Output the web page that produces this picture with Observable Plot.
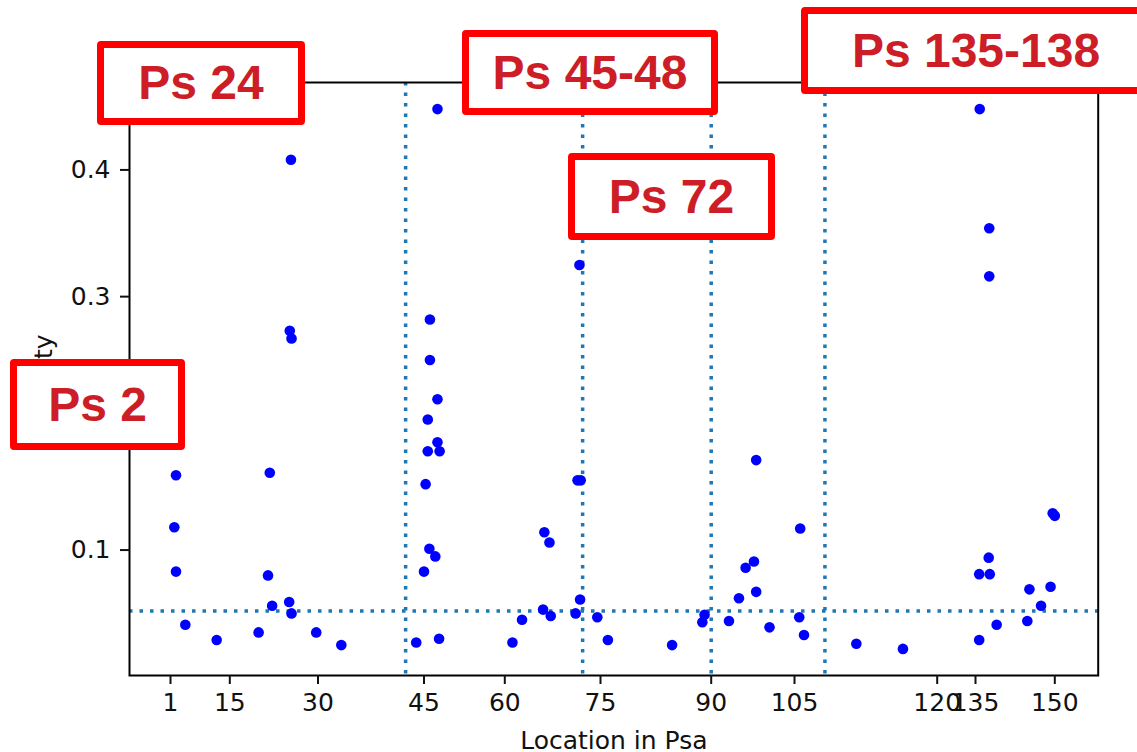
<!DOCTYPE html>
<html>
<head>
<meta charset="utf-8">
<script src="https://cdn.jsdelivr.net/npm/d3@7"></script>
<script src="https://cdn.jsdelivr.net/npm/@observablehq/plot@0.6"></script>
<style>
html, body { margin: 0; padding: 0; background: #fff; }
#wrap { position: relative; width: 1137px; height: 752px; overflow: hidden; background: #fff; }
#wrap svg { position: absolute; left: 0; top: 0; }
.tag {
  position: absolute; box-sizing: border-box;
  border: 7px solid #ff0000; border-radius: 4px; background: #fff;
  color: #cd1e27; font-family: "Liberation Sans", Arial, sans-serif;
  font-weight: bold; font-size: 48px; line-height: 1;
  display: flex; align-items: center; justify-content: center; white-space: nowrap;
}
</style>
</head>
<body>
<div id="wrap"></div>
<script>
// ---- data ----
const xLoc = [
  1.9, 2.3, 2.3, 4.5, 11.9, 19.9, 21.5, 21.8, 22.2, 25.1, 25.2, 25.4, 25.5, 25.5, 29.7, 33.3,
  43.9, 45.0, 45.3, 45.7, 45.7, 46.0, 46.1, 46.1, 47.1, 47.5, 47.5, 47.5, 47.8, 47.9,
  61.2, 62.7, 66.0, 66.2, 67.0, 67.2, 71.1, 71.4, 71.7, 71.8, 71.9, 74.5, 76.0,
  84.7, 88.8, 89.1, 93.2, 95.0, 96.2, 97.7, 98.1, 98.1, 100.5,
  105.5, 105.6, 106.0, 111.5, 116.4,
  135.7, 135.7, 135.8, 137.5, 137.6, 137.6, 137.7, 139.0, 144.8, 145.2, 147.4, 149.2, 149.6, 150.0
];
const yVal = [
  0.118, 0.159, 0.083, 0.041, 0.029, 0.035, 0.080, 0.161, 0.056, 0.059, 0.273, 0.408, 0.050, 0.267, 0.035, 0.025,
  0.027, 0.083, 0.152, 0.178, 0.203, 0.101, 0.282, 0.250, 0.095, 0.219, 0.185, 0.448, 0.030, 0.178,
  0.027, 0.045, 0.053, 0.114, 0.106, 0.048, 0.050, 0.155, 0.325, 0.061, 0.155, 0.047, 0.029,
  0.025, 0.043, 0.049, 0.044, 0.062, 0.086, 0.091, 0.067, 0.171, 0.039,
  0.047, 0.117, 0.033, 0.026, 0.022,
  0.081, 0.029, 0.448, 0.094, 0.354, 0.316, 0.081, 0.041, 0.044, 0.069, 0.056, 0.071, 0.129, 0.127
];
const vLines = [42.4, 72.2, 90, 108.2];
const hLines = [0.052];
const xTicks = [1, 15, 30, 45, 60, 75, 90, 105, 120, 135, 150];
const yTicks = [0.1, 0.2, 0.3, 0.4];
const xLabel = ["Location in Psa"];
const yLabel = ["Diversity"];
const tagTexts = ["Ps 24", "Ps 45-48", "Ps 135-138", "Ps 72", "Ps 2"];

// ---- chart ----
const points = xLoc.map((x, i) => ({x, y: yVal[i]}));
const dotted = {stroke: "#1f77b4", strokeWidth: 3.5, strokeDasharray: "3.5 7"};

const chart = Plot.plot({
  width: 1137,
  height: 752,
  marginTop: 82,
  marginBottom: 77,
  marginLeft: 129,
  marginRight: 39.3,
  style: {fontFamily: "'DejaVu Sans', sans-serif", fontSize: "25px", background: "#fff", color: "#111"},
  x: {
    type: "linear",
    domain: [-8.7, 1, 15, 30, 45, 60, 75, 90, 105, 120, 135, 150, 158.2],
    range: [129, 170, 229.3, 317.5, 423.5, 504.3, 600, 710.7, 794, 936.7, 975, 1054.3, 1097.7]
  },
  y: {domain: [0.001, 0.469]},
  marks: [
    Plot.ruleX(vLines, dotted),
    Plot.ruleY(hLines, dotted),
    Plot.dot(points, {x: "x", y: "y", r: 5.3, fill: "#0000ff", stroke: "none"}),
    Plot.frame({stroke: "#000", strokeWidth: 2}),
    Plot.axisX(xTicks, {tickSize: 9, tickPadding: 9, fontSize: 25, strokeWidth: 2, label: null, tickFormat: d => String(d)}),
    Plot.axisY(yTicks, {tickSize: 9, tickPadding: 10, fontSize: 25, strokeWidth: 2, label: null, tickFormat: d => d.toFixed(1)}),
    Plot.text(xLabel, {text: d => d, frameAnchor: "bottom", dy: 73, lineAnchor: "bottom", textAnchor: "middle", fontSize: 25}),
    Plot.text(yLabel, {text: d => d, frameAnchor: "left", rotate: -90, dx: -78, dy: 11, lineAnchor: "bottom", textAnchor: "middle", fontSize: 25})
  ]
});

const wrap = document.getElementById("wrap");
wrap.appendChild(chart);

// annotation boxes (layout only)
const tagBoxes = [
  {left: 97, top: 41, width: 208, height: 84},
  {left: 462, top: 30, width: 256, height: 85},
  {left: 801, top: 7, width: 350, height: 87},
  {left: 568, top: 153, width: 207, height: 87},
  {left: 10, top: 359, width: 175, height: 91}
];
tagTexts.forEach((t, i) => {
  const b = tagBoxes[i];
  const d = document.createElement("div");
  d.className = "tag";
  d.textContent = t;
  Object.assign(d.style, {left: b.left + "px", top: b.top + "px", width: b.width + "px", height: b.height + "px"});
  wrap.appendChild(d);
});
</script>
</body>
</html>
